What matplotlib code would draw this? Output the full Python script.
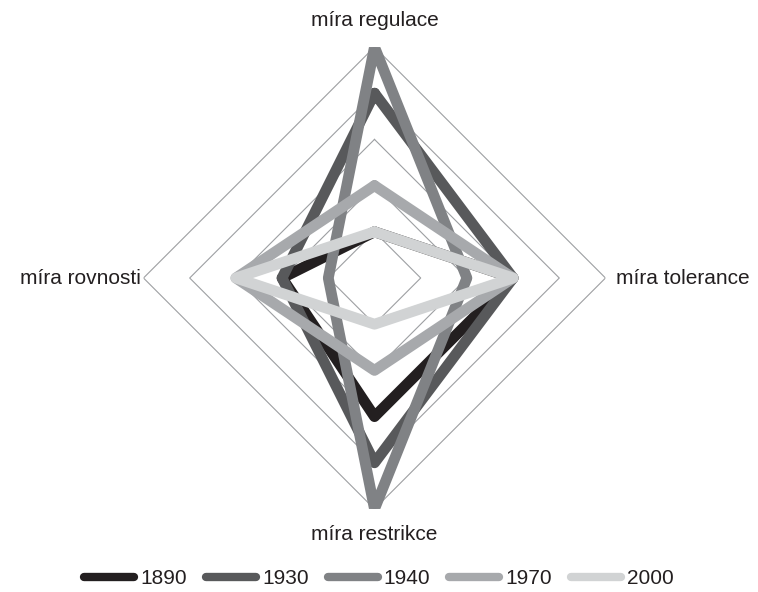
import matplotlib
matplotlib.use('Agg')
import matplotlib.pyplot as plt
import numpy as np

plt.rcParams['font.family'] = ['Liberation Sans', 'DejaVu Sans']

# axes go clockwise from the top
categories = ['míra regulace', 'míra tolerance', 'míra restrikce', 'míra rovnosti']
years = ['1890', '1930', '1940', '1970', '2000']
v1890 = [1, 3, 3, 2]
v1930 = [4, 3, 4, 2]
v1940 = [5, 2, 5, 1]
v1970 = [2, 3, 2, 3]
v2000 = [1, 3, 1, 3]
series = [v1890, v1930, v1940, v1970, v2000]
colors = ['#231f20', '#58595b', '#808285', '#a7a9ac', '#d1d3d4']
rings = [1, 2, 3, 4, 5]

angles = np.deg2rad([90, 0, 270, 180])
closed = np.append(angles, angles[0])

fig = plt.figure(figsize=(7.58, 5.92), dpi=100)
ax = fig.add_axes([0.1893, 0.1402, 0.6095, 0.7804], projection='polar')

for r in rings:
    ax.plot(closed, [r] * 5, color='#9d9fa2', lw=0.8, zorder=1)

for yr, vals, c in zip(years, series, colors):
    ax.plot(closed, vals + vals[:1], color=c, lw=7.8, label=yr,
            solid_joinstyle='round', solid_capstyle='round', zorder=2)

ax.set_ylim(0, 5)
ax.set_xticks([])
ax.set_yticks([])
ax.grid(False)
ax.spines['polar'].set_visible(False)
ax.patch.set_visible(False)

txt = dict(fontsize=15, color='#231f20', clip_on=False)
ax.text(angles[0], 5.58, categories[0], ha='center', va='center', **txt)
ax.text(angles[1], 5.22, categories[1], ha='left', va='center', **txt)
ax.text(angles[2], 5.56, categories[2], ha='center', va='center', **txt)
ax.text(angles[3], 5.05, categories[3], ha='right', va='center', **txt)

leg = fig.legend(loc='center', bbox_to_anchor=(0.5, 0.022), ncol=5, frameon=False,
                 fontsize=15, handlelength=2.4, handletextpad=0.3,
                 columnspacing=0.9, borderpad=0)
for line in leg.get_lines():
    line.set_linewidth(6)
for t in leg.get_texts():
    t.set_color('#231f20')

fig.savefig('out.png', dpi=100)
